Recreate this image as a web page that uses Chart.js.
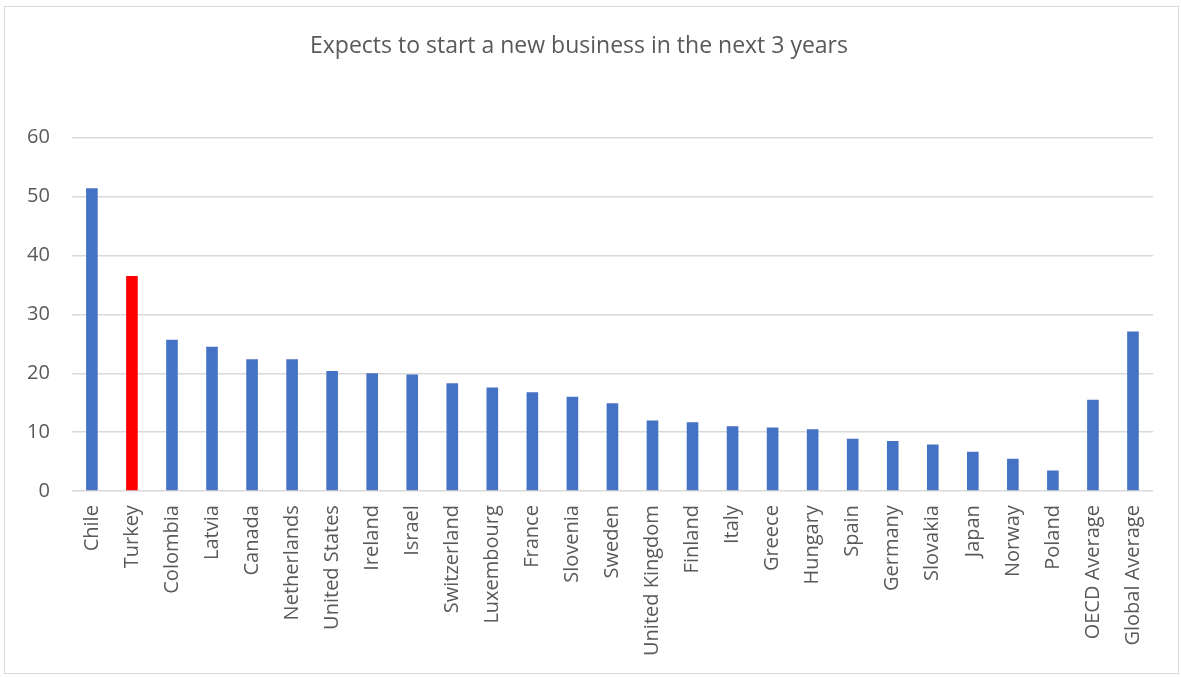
<!DOCTYPE html>
<html>
<head>
<meta charset="utf-8">
<script src="https://cdn.jsdelivr.net/npm/chart.js@4.4.1/dist/chart.umd.min.js"></script>
<style>
  body { margin: 0; background: #fff; }
  #frame { position: absolute; left: 4px; top: 6px; width: 1175px; height: 668px; border: 1px solid #d9d9d9; box-sizing: border-box; }
  #wrap { position: absolute; left: 0; top: 0; width: 1181px; height: 677px; }
</style>
</head>
<body>
<div id="frame"></div>
<div id="wrap"><canvas id="myChart"></canvas></div>
<script>
// data
const countries = ['Chile', 'Turkey', 'Colombia', 'Latvia', 'Canada', 'Netherlands', 'United States',
  'Ireland', 'Israel', 'Switzerland', 'Luxembourg', 'France', 'Slovenia', 'Sweden', 'United Kingdom',
  'Finland', 'Italy', 'Greece', 'Hungary', 'Spain', 'Germany', 'Slovakia', 'Japan', 'Norway', 'Poland',
  'OECD Average', 'Global Average'];
const expectsToStart = [51.4, 36.5, 25.7, 24.5, 22.4, 22.4, 20.4, 20.0, 19.8, 18.3, 17.6, 16.8, 16.0,
  14.9, 12.0, 11.7, 11.0, 10.8, 10.5, 8.9, 8.5, 7.9, 6.7, 5.5, 3.5, 15.5, 27.1];
const highlight = 'Turkey';
const yTicks = [0, 10, 20, 30, 40, 50, 60];

var barColors = countries.map(function(c) {
  return c === highlight ? '#ff0000' : '#4472c4';
});

var ctx = document.getElementById('myChart').getContext('2d');
var chart = new Chart(ctx, {
  type: 'bar',
  data: {
    labels: countries,
    datasets: [{
      label: 'Expects to start a new business in the next 3 years',
      data: expectsToStart,
      backgroundColor: barColors,
      barPercentage: 0.58,
      categoryPercentage: 0.5
    }]
  },
  options: {
    responsive: true,
    maintainAspectRatio: false,
    animation: false,
    layout: { padding: { left: 5, right: 28, top: 0, bottom: 7 } },
    plugins: {
      legend: { display: false },
      tooltip: { enabled: false },
      title: {
        display: true,
        text: 'Expects to start a new business in the next 3 years',
        color: '#595959',
        font: { family: 'Open Sans', size: 23, weight: 'normal' },
        padding: { top: 33, bottom: 77 }
      }
    },
    scales: {
      x: {
        grid: { display: false, drawTicks: false },
        border: { display: false },
        ticks: {
          color: '#595959',
          font: { family: 'Open Sans', size: 20 },
          minRotation: 90,
          maxRotation: 90,
          padding: 14,
          autoSkip: false
        }
      },
      y: {
        min: yTicks[0],
        max: yTicks[yTicks.length - 1],
        afterBuildTicks: function(axis) {
          axis.ticks = yTicks.map(function(v) { return { value: v }; });
        },
        grid: { color: '#d9d9d9', lineWidth: 1.5, drawTicks: false },
        border: { display: false },
        ticks: {
          color: '#595959',
          font: { family: 'Open Sans', size: 20 },
          padding: 22
        }
      }
    }
  }
});
</script>
</body>
</html>
